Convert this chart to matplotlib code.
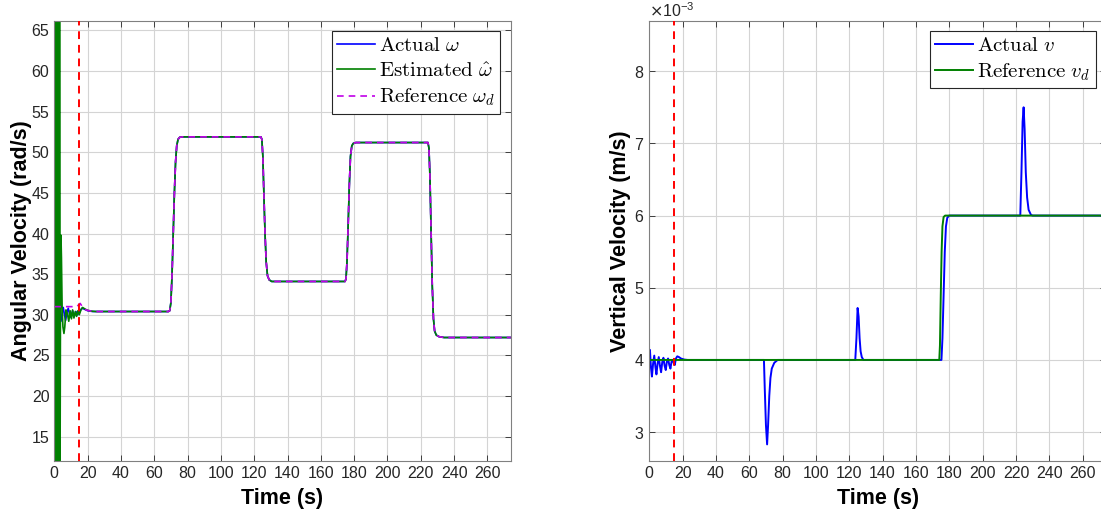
import numpy as np
import matplotlib
matplotlib.use("Agg")
import matplotlib.pyplot as plt
from matplotlib.lines import Line2D

plt.rcParams["font.family"] = ["Liberation Sans", "DejaVu Sans"]
plt.rcParams["mathtext.fontset"] = "cm"

# ---------------- left panel: angular velocity ----------------
t_w_act = [0, 0.5, 1.2, 1.9, 2.6, 3.3, 4.0, 4.7, 5.4, 6.1, 6.8, 7.6, 8.4, 9.2, 10.0, 11.0,
           12.0, 13.0, 14.0, 15.0, 16.5, 18.0, 20.0, 23.0,
           68.5, 69.3, 70.0, 70.7, 71.4, 72.1, 72.8, 73.5, 74.3, 75.3, 77.0,
           124.0, 124.6, 125.2, 125.8, 126.5, 127.2, 128.0, 129.0, 130.5,
           174.5, 175.1, 175.7, 176.4, 177.1, 177.8, 178.6, 179.5, 181.0,
           224.3, 224.9, 225.5, 226.2, 226.9, 227.6, 228.3, 229.3, 231.0, 234.0, 274.0]
w_act = [31.0, 30.5, 28.7, 30.5, 31.0, 30.0, 29.2, 30.2, 30.9, 30.0, 29.3, 30.3, 30.8, 30.0, 29.7, 30.5,
         29.8, 30.4, 30.0, 30.3, 30.8, 30.7, 30.5, 30.4,
         30.4, 30.5, 31.5, 35.0, 40.0, 45.0, 48.8, 50.8, 51.6, 51.85, 51.9,
         51.9, 51.6, 49.5, 45.0, 40.0, 36.5, 34.8, 34.3, 34.1,
         34.1, 34.4, 36.5, 41.0, 46.0, 49.5, 50.8, 51.1, 51.2,
         51.2, 50.5, 47.0, 40.0, 33.5, 29.5, 28.0, 27.5, 27.3, 27.2, 27.2]

t_w_est = [0, 0.15, 0.3, 0.45, 0.6, 0.75, 0.9, 1.05, 1.2, 1.35, 1.5, 1.65, 1.8, 1.95, 2.1, 2.25,
           2.4, 2.55, 2.7, 2.85, 3.0, 3.15,
           3.4, 3.7, 4.0, 4.3, 4.7, 5.2, 5.8, 6.3, 7.0, 7.8, 8.7, 9.5, 10.3, 11.0, 11.8,
           12.6, 13.4, 14.2, 15.0, 16.0, 17.0, 18.5, 20.0, 22.0, 25.0,
           68.5, 69.3, 70.0, 70.7, 71.4, 72.1, 72.8, 73.5, 74.3, 75.3, 77.0,
           124.0, 124.6, 125.2, 125.8, 126.5, 127.2, 128.0, 129.0, 130.5,
           174.5, 175.1, 175.7, 176.4, 177.1, 177.8, 178.6, 179.5, 181.0,
           224.3, 224.9, 225.5, 226.2, 226.9, 227.6, 228.3, 229.3, 231.0, 234.0, 274.0]
w_est = [31.0, 70.0, -10.0, 72.0, -12.0, 70.0, -8.0, 68.0, -5.0, 66.0, 0.0, 62.0, 5.0, 60.0, 2.0,
         70.0, 0.0, 72.0, -5.0, 70.0, 0.0, 68.0,
         5.0, 30.0, 39.8, 37.0, 31.0, 28.5, 27.7, 28.5, 30.6, 30.2, 29.2, 30.5, 29.5, 30.6, 29.6,
         30.4, 29.8, 30.5, 30.0, 30.6, 30.9, 30.7, 30.55, 30.45, 30.4,
         30.4, 30.5, 31.5, 35.0, 40.0, 45.0, 48.8, 50.8, 51.6, 51.85, 51.9,
         51.9, 51.6, 49.5, 45.0, 40.0, 36.5, 34.8, 34.3, 34.1,
         34.1, 34.4, 36.5, 41.0, 46.0, 49.5, 50.8, 51.1, 51.2,
         51.2, 50.5, 47.0, 40.0, 33.5, 29.5, 28.0, 27.5, 27.3, 27.2, 27.2]

t_w_ref = [0, 12.0, 13.5, 14.5, 15.5, 16.5, 17.5, 19.0, 21.0, 24.0,
           68.5, 69.3, 70.0, 70.7, 71.4, 72.1, 72.8, 73.5, 74.3, 75.3, 77.0,
           124.0, 124.6, 125.2, 125.8, 126.5, 127.2, 128.0, 129.0, 130.5,
           174.5, 175.1, 175.7, 176.4, 177.1, 177.8, 178.6, 179.5, 181.0,
           224.3, 224.9, 225.5, 226.2, 226.9, 227.6, 228.3, 229.3, 231.0, 234.0, 274.0]
w_ref = [31.0, 31.0, 31.0, 31.2, 31.4, 31.1, 30.8, 30.6, 30.5, 30.4,
         30.4, 30.5, 31.5, 35.0, 40.0, 45.0, 48.8, 50.8, 51.6, 51.85, 51.9,
         51.9, 51.6, 49.5, 45.0, 40.0, 36.5, 34.8, 34.3, 34.1,
         34.1, 34.4, 36.5, 41.0, 46.0, 49.5, 50.8, 51.1, 51.2,
         51.2, 50.5, 47.0, 40.0, 33.5, 29.5, 28.0, 27.5, 27.3, 27.2, 27.2]

# ---------------- right panel: vertical velocity (x 1e-3 m/s) ----------------
t_v_act = [0, 0.4, 1.0, 1.6, 2.3, 3.0, 3.7, 4.3, 5.0, 5.7, 6.4, 7.1, 7.8, 8.5, 9.2, 9.9,
           10.6, 11.3, 12.0, 12.7, 13.4, 14.1, 14.8, 15.3, 16.0, 16.8, 17.8, 19.0, 21.0, 23.0,
           68.8, 69.3, 70.0, 70.7, 71.3, 72.0, 72.7, 73.5, 75.0, 77.0,
           123.6, 124.3, 125.0, 125.6, 126.2, 126.8, 127.5, 128.5,
           175.3, 175.9, 176.6, 177.3, 178.0, 178.8, 180.0,
           222.6, 223.3, 224.0, 224.6, 225.2, 225.9, 226.7, 227.6, 229.0, 230.0, 274.0]
v_act = [4.12, 4.14, 3.9, 3.77, 3.95, 4.06, 3.9, 3.8, 3.95, 4.04, 3.92, 3.83, 3.97, 4.03, 3.92, 3.86,
         3.98, 4.02, 3.93, 3.88, 3.98, 4.0, 3.95, 3.93, 4.02, 4.05, 4.04, 4.02, 4.005, 4.0,
         4.0, 3.6, 3.1, 2.83, 3.1, 3.5, 3.75, 3.88, 3.96, 4.0,
         4.0, 4.3, 4.72, 4.6, 4.3, 4.12, 4.04, 4.0,
         4.0, 4.3, 4.9, 5.5, 5.85, 5.97, 6.0,
         6.0, 6.6, 7.3, 7.5, 7.2, 6.6, 6.25, 6.08, 6.01, 6.0, 6.0]

t_v_ref = [0, 174.0, 174.4, 174.9, 175.4, 175.9, 176.6, 177.5, 274.0]
v_ref = [4.0, 4.0, 4.2, 4.9, 5.5, 5.85, 5.98, 6.0, 6.0]

t_switch = 15

fig = plt.figure(figsize=(11.01, 5.16), dpi=100)
ax1 = fig.add_axes([0.0493, 0.1066, 0.4146, 0.8533])
ax2 = fig.add_axes([0.5897, 0.1066, 0.4148, 0.8533])

blue = "#0000ff"
green = "#008000"
mag = "#c000e8"

ax1.plot(t_w_act, w_act, color=blue, lw=1.2)
ax1.plot(t_w_est, w_est, color=green, lw=1.2)
ax1.plot(t_w_ref, w_ref, color=mag, lw=1.2, linestyle=(0, (4, 3)))
ax1.axvline(t_switch, color="#ff0000", lw=1.4, linestyle=(0, (4, 3)), zorder=5)
ax1.set_xlim(0, 274)
ax1.set_ylim(12.0, 66.2)
ax1.set_xticks(np.arange(0, 261, 20))
ax1.set_yticks(np.arange(15, 66, 5))
ax1.set_ylabel("Angular Velocity (rad/s)", fontsize=15.5, fontweight="bold", labelpad=0)

ax2.plot(t_v_act, np.array(v_act) * 1e-3, color=blue, lw=1.4)
ax2.plot(t_v_ref, np.array(v_ref) * 1e-3, color=green, lw=1.4)
ax2.axvline(t_switch, color="#ff0000", lw=1.4, linestyle=(0, (4, 3)), zorder=5)
ax2.set_xlim(0, 274)
ax2.set_ylim(2.6e-3, 8.7e-3)
ax2.set_xticks(np.arange(0, 261, 20))
ax2.set_yticks(np.arange(3, 9) * 1e-3)
ax2.ticklabel_format(axis="y", style="sci", scilimits=(-3, -3), useMathText=True)
ax2.set_ylabel("Vertical Velocity (m/s)", fontsize=15.5, fontweight="bold", labelpad=2)

for ax in (ax1, ax2):
    ax.set_xlabel("Time (s)", fontsize=15.5, fontweight="bold", labelpad=5)
    ax.grid(True, color="#d4d4d4", lw=0.8)
    ax.set_axisbelow(True)
    ax.tick_params(direction="in", length=4, width=0.6, labelsize=11.5,
                   colors="#262626", top=True, right=True)
    for s in ax.spines.values():
        s.set_color("#808080")
        s.set_linewidth(0.8)

ax2.yaxis.get_offset_text().set_fontsize(11.5)
ax2.yaxis.get_offset_text().set_color("#262626")
ax2.yaxis.get_offset_text().set_math_fontfamily("dejavusans")

leg_kw = dict(loc="upper right", fontsize=15, handlelength=1.8, handletextpad=0.2,
              borderpad=0.25, labelspacing=0.3, borderaxespad=0.5, fancybox=False,
              framealpha=1, edgecolor="#262626")

h1 = [Line2D([], [], color=blue, lw=1.2),
      Line2D([], [], color=green, lw=1.2),
      Line2D([], [], color=mag, lw=1.2, linestyle=(0, (4, 3)))]
leg1 = ax1.legend(h1, [r"$\mathrm{Actual}\ \omega$", r"$\mathrm{Estimated}\ \hat{\omega}$",
                       r"$\mathrm{Reference}\ \omega_d$"], **leg_kw)
leg1.get_frame().set_linewidth(0.8)

h2 = [Line2D([], [], color=blue, lw=1.4), Line2D([], [], color=green, lw=1.4)]
leg2 = ax2.legend(h2, [r"$\mathrm{Actual}\ v$", r"$\mathrm{Reference}\ v_d$"], **leg_kw)
leg2.get_frame().set_linewidth(0.8)

fig.savefig("out.png", dpi=100)
